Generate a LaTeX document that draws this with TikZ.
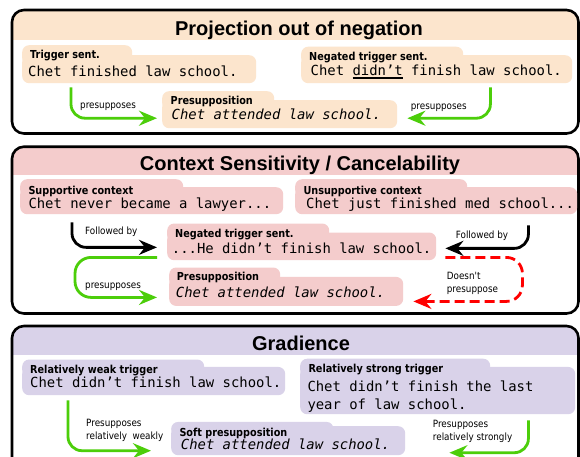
\documentclass[tikz,border=0pt]{standalone}
\usepackage{fontspec}
\usetikzlibrary{arrows.meta,calc}
\setmainfont{DejaVu Sans}
\newfontfamily\tabfont{DejaVu Sans}[FakeStretch=0.88]
\newfontfamily\codefont{DejaVu Sans Mono}
\newfontfamily\ttlfont{Liberation Sans}
\definecolor{pOrange}{HTML}{FCE5CD}
\definecolor{pPink}{HTML}{F4CCCC}
\definecolor{pPurple}{HTML}{D9D2E9}
\definecolor{arrGreen}{RGB}{76,206,10}
\definecolor{arrRed}{RGB}{255,0,0}
\newcommand\thickul[1]{\setbox0\hbox{#1}\leavevmode\rlap{\rule[-3.2pt]{\wd0}{1.8pt}}\box0\relax}
\tikzset{
  panelline/.style={draw=black, line width=2.6pt, rounded corners=12pt},
  boxshape/.style={rectangle, rounded corners=7pt, inner sep=0pt, anchor=north west, draw=none},
  ttl/.style={font=\ttlfont\bfseries\fontsize{20}{24}\selectfont, inner sep=0pt, anchor=base},
  lab/.style={font=\tabfont\bfseries\fontsize{11}{13}\selectfont, inner sep=0pt, anchor=base west},
  code/.style={font=\codefont\fontsize{13.9}{17.3}\selectfont, inner sep=0pt, anchor=base west},
  codeit/.style={font=\codefont\itshape\fontsize{13.9}{17.3}\selectfont, inner sep=0pt, anchor=base west},
  alab/.style={font=\tabfont\fontsize{10}{12.8}\selectfont, inner sep=0pt, anchor=west, align=left},
  arrbase/.style={line width=2.8pt, rounded corners=14pt},
  garr/.style={arrbase, draw=arrGreen, -{Stealth[length=18pt,width=15pt,inset=6pt]}},
  karr/.style={arrbase, draw=black, -{Stealth[length=18pt,width=15pt,inset=6pt]}},
  rarr/.style={arrbase, draw=arrRed, dash pattern=on 10pt off 5pt, -{Stealth[length=18pt,width=15pt,inset=6pt,sep=0pt]}},
}
% panel: colour, top, bottom, band bottom
\newcommand\panelbox[4]{%
  \begin{scope}
    \clip[rounded corners=12pt] (12,#2) rectangle (578.5,#3);
    \fill[#1] (12,#2) rectangle (578.5,#4);
  \end{scope}
  \draw[panelline] (12,#2) rectangle (578.5,#3);
}
% tab box: name, colour, x, tab top, tab right, body top, body right, body bottom
\newcommand\tabbox[8]{%
  \node[boxshape, fill=#2, minimum width={#5pt-#3pt}, minimum height={#6pt-#4pt+10pt}] (#1-tab) at (#3,#4) {};
  \node[boxshape, fill=#2, minimum width={#7pt-#3pt}, minimum height={#8pt-#6pt}] (#1) at (#3,#6) {};
}
\begin{document}
\begin{tikzpicture}[x=1pt,y=-1pt]
\useasboundingbox (0,0) rectangle (580,456);
\clip (0,0) rectangle (580,456);
\fill[white] (0,0) rectangle (580,456);

% ---------- Panel 1 ----------
\panelbox{pOrange}{10}{133.5}{39.5}
\node[ttl] (title1) at (299,35) {Projection out of negation};
\tabbox{trig}{pOrange}{22}{45}{132}{55}{256}{83}
\node[lab] (trig-l) at (30,58.5) {Trigger sent.};
\node[code] (trig-c) at (28,76) {Chet finished law school.};
\tabbox{neg1}{pOrange}{301}{46.5}{463}{55}{572}{83}
\node[lab] (neg1-l) at (309,60.5) {Negated trigger sent.};
\node[code] (neg1-c) at (310.5,75.5) {Chet \thickul{didn’t} finish law school.};
\tabbox{pre1}{pOrange}{162}{91}{274}{100}{397}{128}
\node[lab] (pre1-l) at (170.5,104.7) {Presupposition};
\node[codeit] (pre1-c) at (171.5,119.3) {Chet attended law school.};
\draw[garr] ($(trig.south west)+(49,4)$) |- ($(pre1.west)+(-5,4)$);
\draw[garr] ($(neg1.south east)+(-82,4)$) |- ($(pre1.east)+(10,4)$);
\node[alab] (a1) at (80,107) {presupposes};
\node[alab] (a2) at (410.7,107.7) {presupposes};

% ---------- Panel 2 ----------
\panelbox{pPink}{146.7}{313.5}{175}
\node[ttl] (title2) at (300,170.7) {Context Sensitivity / Cancelability};
\tabbox{sup}{pPink}{20}{179}{183}{187}{283}{214}
\node[lab] (sup-l) at (28.3,194) {Supportive context};
\node[code] (sup-c) at (28.3,208.3) {Chet never became a lawyer...};
\tabbox{uns}{pPink}{295}{179}{467}{187}{577}{214}
\node[lab] (uns-l) at (303.3,194) {Unsupportive context};
\node[code] (uns-c) at (306,208.3) {Chet just finished med school...};
\tabbox{neg2}{pPink}{167}{223.3}{329}{232.3}{436}{260}
\node[lab] (neg2-l) at (175,237.7) {Negated trigger sent.};
\node[code] (neg2-c) at (171.7,253.3) {...He didn’t finish law school.};
\tabbox{pre2}{pPink}{169}{267.3}{280}{276.7}{403}{305.7}
\node[lab] (pre2-l) at (176.7,280.7) {Presupposition};
\node[codeit] (pre2-c) at (175.7,297.3) {Chet attended law school.};
\draw[karr] ($(sup.south west)+(52,8)$) |- ($(neg2.west)+(-10,1)$);
\draw[karr] ($(uns.south east)+(-49,11)$) |- ($(neg2.east)+(9,2)$);
\draw[garr, rounded corners=16pt] ($(neg2.south west)+(-10,-3)$) -- ++(-82,0) |- ($(pre2.west)+(-12,6)$);
\draw[rarr, rounded corners=16pt] ($(neg2.south east)+(9,-3)$) -- ++(77,0) |- ($(pre2.east)+(10,10)$);
\node[alab] (a3) at (85,232) {Followed by};
\node[alab] (a4) at (455.7,235.7) {Followed by};
\node[alab] (a5) at (85,287) {presupposes};
\node[alab] (a6) at (446.7,283.5) {Doesn't\\presuppose};

% ---------- Panel 3 ----------
\panelbox{pPurple}{326}{490}{355}
\node[ttl] (title3) at (301,350) {Gradience};
\tabbox{weak}{pPurple}{22}{359.3}{204}{366.7}{285}{395}
\node[lab] (weak-l) at (30,373.3) {Relatively weak trigger};
\node[code] (weak-c) at (30,387.3) {Chet didn’t finish law school.};
\tabbox{strong}{pPurple}{300}{358.5}{490}{366.7}{575}{414}
\node[lab] (strong-l) at (308.3,372.7) {Relatively strong trigger};
\node[code] (strong-c1) at (307.3,391.7) {Chet didn’t finish the last};
\node[code] (strong-c2) at (307.3,409) {year of law school.};
\tabbox{soft}{pPurple}{171}{421.7}{333.3}{426}{405}{455}
\node[lab] (soft-l) at (179.3,436) {Soft presupposition};
\node[codeit] (soft-c) at (180.7,449.3) {Chet attended law school.};
\draw[garr] ($(weak.south west)+(46,5)$) |- ($(soft.west)+(-20,10)$);
\draw[garr] ($(strong.south east)+(-47,6)$) |- ($(soft.east)+(44,12)$);
\node[alab] (a7) at (86,430.5) {Presupposes\\relatively\ \ weakly};
\node[alab] (a8) at (432.7,431.5) {Presupposes\\relatively strongly};
\end{tikzpicture}
\end{document}
